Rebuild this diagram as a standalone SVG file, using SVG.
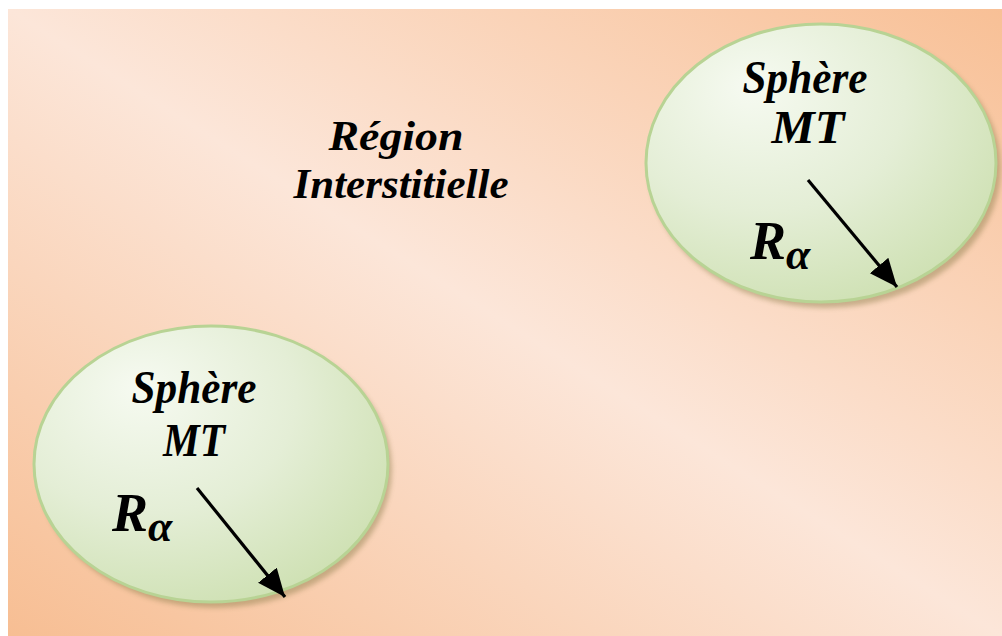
<svg xmlns="http://www.w3.org/2000/svg" width="1002" height="636" viewBox="0 0 1002 636">
<style>
.t{font-family:"Liberation Serif","Times New Roman",serif;font-weight:bold;font-style:italic;fill:#000;text-anchor:middle}
.lbl{font-size:46px}
.reg{font-size:43px}
.r{font-size:54px;text-anchor:start}
.a{font-size:44px}
.sph{fill:url(#sg);stroke:#b8d394;stroke-width:3}
.shadow{fill:#8a7c4a;opacity:0.45;filter:url(#blur)}
.arr{stroke:#000;stroke-width:3.2;fill:none;marker-end:url(#ah)}
</style>
<defs>
<linearGradient id="bg" x1="0" y1="1" x2="1" y2="0">
<stop offset="0" stop-color="#f7be93"/>
<stop offset="0.5" stop-color="#fce6d9"/>
<stop offset="1" stop-color="#f8c096"/>
</linearGradient>
<radialGradient id="sg" cx="0.35" cy="0.3" r="0.75" fx="0.3" fy="0.22">
<stop offset="0" stop-color="#f6faf1"/>
<stop offset="0.55" stop-color="#e4eed6"/>
<stop offset="1" stop-color="#cfe1b4"/>
</radialGradient>
<filter id="blur" x="-10%" y="-10%" width="120%" height="120%"><feGaussianBlur stdDeviation="2.5"/></filter>
<marker id="ah" markerUnits="userSpaceOnUse" markerWidth="32" markerHeight="28" refX="28" refY="12" orient="auto">
<path d="M0,0 L28,12 L0,24 Z" fill="#000"/>
</marker>
</defs>
<rect x="8" y="9" width="994" height="627" fill="url(#bg)"/>
<g id="region">
<text class="t reg" x="396" y="150" textLength="135" lengthAdjust="spacingAndGlyphs">Région</text>
<text class="t reg" x="401" y="198" textLength="215" lengthAdjust="spacingAndGlyphs">Interstitielle</text>
</g>
<g id="sphere-top">
<ellipse class="shadow" cx="825" cy="168" rx="176" ry="140"/>
<ellipse class="sph" cx="821" cy="163" rx="175" ry="139"/>
<text class="t lbl" x="805" y="93" textLength="125" lengthAdjust="spacingAndGlyphs">Sphère</text>
<text class="t lbl" x="808" y="143" textLength="73" lengthAdjust="spacingAndGlyphs">MT</text>
<text class="t r" x="750" y="259">R<tspan class="a" dy="10">α</tspan></text>
</g>
<g id="sphere-bottom">
<ellipse class="shadow" cx="215" cy="469" rx="177" ry="139"/>
<ellipse class="sph" cx="211" cy="464" rx="177" ry="138"/>
<text class="t lbl" x="194" y="403" textLength="125" lengthAdjust="spacingAndGlyphs">Sphère</text>
<text class="t lbl" x="194" y="456" textLength="62" lengthAdjust="spacingAndGlyphs">MT</text>
<text class="t r" x="112" y="531">R<tspan class="a" dy="10">α</tspan></text>
</g>
<g id="connectors">
<line class="arr" x1="808" y1="180" x2="897" y2="287"/>
<line class="arr" x1="197" y1="488" x2="285" y2="597"/>
</g>
</svg>
